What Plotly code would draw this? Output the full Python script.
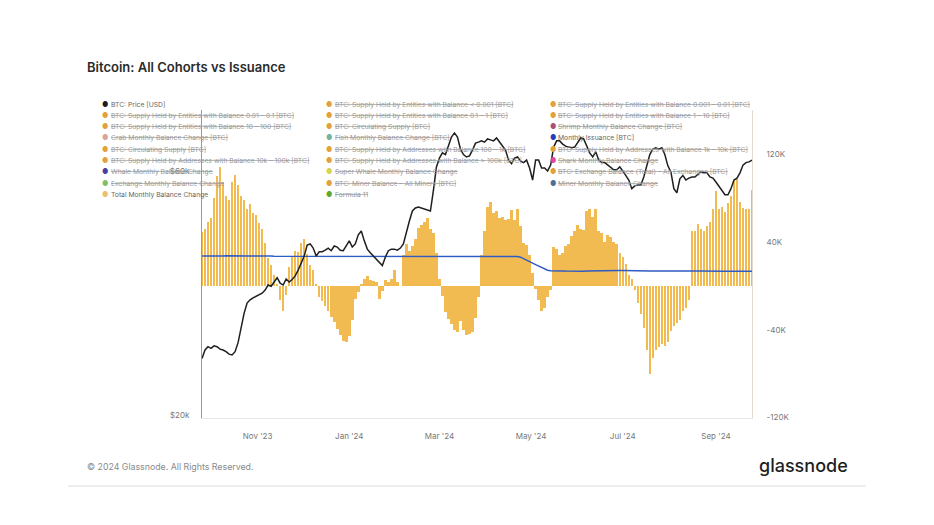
import numpy as np
import pandas as pd
import plotly.graph_objects as go

# ---------------- data ----------------
start_date = "2023-09-25"
n_points = 184  # one value every 2 days
dates = pd.date_range(start_date, periods=n_points, freq="2D")

# Total Monthly Balance Change [thousand BTC]
total_change_k = [
    49, 52, 58, 62, 80, 100, 108, 94, 82, 78,
    94, 101, 92, 82, 78, 70, 74, 66, 64, 57,
    52, 39, 25, 19, 10, 1, -13, -23, -8, 17,
    27, 32, 31, 39, 43, 29, 19, 14, 2, -10,
    -14, -18, -23, -28, -33, -39, -45, -50, -51, -46,
    -31, -12, -6, 1, 6, 9, 5, 4, 3, -12,
    -5, 5, 3, 6, 14, 3, 0, 28, 38, 32,
    36, 43, 53, 55, 58, 62, 52, 48, 30, 6,
    -9, -24, -30, -35, -40, -42, -32, -40, -45, -44,
    -42, -29, -10, 28, 50, 72, 76, 66, 68, 62,
    63, 60, 61, 69, 60, 70, 54, 39, 37, 28,
    12, -3, -13, -23, -20, -10, -4, 35, 33, 28,
    30, 36, 38, 45, 50, 55, 52, 51, 68, 70,
    63, 70, 50, 48, 40, 46, 44, 40, 38, 30,
    26, 20, 10, 6, -4, -16, -26, -38, -58, -80,
    -66, -58, -56, -53, -55, -51, -41, -37, -34, -31,
    -23, -20, -13, 50, 50, 56, 52, 50, 54, 58,
    70, 86, 70, 72, 67, 75, 82, 95, 97, 76,
    71, 70, 70, 87,
]

# Monthly Issuance [thousand BTC]
issuance_k = [
    27.1, 27.0, 27.2, 27.3, 27.1, 27.0, 26.9, 27.0, 27.2, 27.1,
    27.0, 27.2, 27.4, 27.3, 27.2, 27.1, 27.0, 27.0, 27.1, 27.2,
    27.3, 27.2, 27.1, 27.0, 26.9, 26.9, 27.0, 27.1, 27.2, 27.2,
    27.1, 27.0, 27.0, 26.9, 26.8, 26.8, 26.9, 27.0, 27.0, 26.9,
    26.8, 26.7, 26.7, 26.8, 26.9, 27.0, 27.1, 27.0, 26.9, 26.9,
    27.0, 27.1, 27.1, 27.0, 26.9, 26.8, 26.8, 26.9, 27.0, 27.0,
    27.1, 27.1, 27.0, 26.9, 26.9, 27.0, 27.1, 27.2, 27.2, 27.1,
    27.0, 27.0, 27.1, 27.2, 27.1, 27.0, 26.9, 26.9, 27.0, 27.1,
    27.1, 27.0, 26.9, 26.9, 27.0, 27.0, 27.1, 27.1, 27.0, 26.9,
    26.9, 27.0, 27.0, 27.1, 27.0, 26.9, 26.9, 27.0, 27.0, 26.9,
    26.9, 27.0, 27.0, 26.9, 26.8, 26.6, 26.0, 24.8, 23.4, 22.0,
    20.6, 19.2, 17.8, 16.4, 15.2, 14.2, 13.6, 13.4, 13.3, 13.4,
    13.5, 13.4, 13.3, 13.4, 13.5, 13.5, 13.4, 13.3, 13.4, 13.5,
    13.6, 13.6, 13.5, 13.4, 13.4, 13.5, 13.6, 13.6, 13.7, 13.8,
    13.8, 13.7, 13.6, 13.6, 13.7, 13.8, 13.8, 13.7, 13.6, 13.5,
    13.5, 13.6, 13.6, 13.5, 13.4, 13.4, 13.5, 13.5, 13.4, 13.3,
    13.3, 13.4, 13.4, 13.3, 13.3, 13.4, 13.4, 13.3, 13.2, 13.3,
    13.3, 13.4, 13.3, 13.2, 13.2, 13.3, 13.3, 13.4, 13.3, 13.3,
    13.2, 13.3, 13.3, 13.2,
]

# BTC: Price [thousand USD]
price_k = [
    25.8, 26.8, 27.2, 27.0, 27.3, 27.2, 26.9, 26.8, 26.6, 26.3,
    26.2, 26.6, 27.7, 29.6, 31.6, 33.1, 33.6, 33.9, 34.1, 34.3,
    34.6, 35.1, 35.9, 35.7, 36.5, 37.1, 36.2, 35.9, 36.9, 36.4,
    36.8, 37.4, 38.4, 39.5, 40.9, 43.0, 43.2, 42.4, 40.9, 41.7,
    41.7, 42.0, 42.4, 41.9, 42.8, 42.6, 42.0, 41.9, 42.8, 43.8,
    42.6, 43.2, 45.0, 45.8, 43.8, 42.2, 41.5, 40.9, 40.3, 39.7,
    39.2, 40.7, 41.9, 42.2, 42.2, 42.0, 42.4, 43.2, 45.8, 47.9,
    50.1, 50.8, 51.0, 50.8, 50.6, 50.3, 50.1, 55.0, 61.1, 63.6,
    65.1, 64.6, 67.4, 69.9, 71.2, 69.9, 66.2, 64.6, 63.9, 64.2,
    65.9, 68.0, 68.3, 68.7, 68.3, 69.3, 69.0, 68.7, 69.6, 68.3,
    66.8, 65.9, 63.0, 62.0, 63.6, 63.9, 62.7, 62.3, 63.0, 60.8,
    57.6, 63.0, 63.0, 60.8, 60.8, 60.0, 61.6, 66.8, 68.7, 68.7,
    67.7, 67.1, 66.8, 66.6, 66.8, 68.3, 69.6, 69.3, 67.1, 65.1,
    63.9, 65.4, 63.0, 62.3, 62.3, 61.6, 60.8, 60.3, 60.3, 61.1,
    60.0, 58.6, 57.6, 55.4, 56.1, 56.3, 56.3, 58.4, 61.1, 64.6,
    66.2, 66.6, 66.2, 66.6, 64.6, 61.4, 59.8, 55.4, 54.4, 57.9,
    58.8, 57.6, 58.1, 58.4, 58.4, 59.1, 59.8, 59.5, 59.5, 58.4,
    58.1, 57.1, 56.1, 55.1, 53.9, 53.9, 55.4, 57.6, 58.1, 59.5,
    61.6, 62.3, 62.5, 63.0,
]

x_tick_labels_start = "2023-11-01"
right_tickvals = [120, 40, -40, -120]
right_ticktext = ["120K", "40K", "-40K", "-120K"]
left_tickvals = [20, 60]
left_ticktext = ["$20k", "$60k"]

# legend entries: (label, dot colour, active)
legend_cols = [
    [
        ("BTC: Price [USD]", "#1d1d1d", True),
        ("BTC: Supply Held by Entities with Balance 0.01 – 0.1 [BTC]", "#E3A13E", False),
        ("BTC: Supply Held by Entities with Balance 10 – 100 [BTC]", "#E3A13E", False),
        ("Crab Monthly Balance Change [BTC]", "#D9A39C", False),
        ("BTC: Circulating Supply [BTC]", "#E3A13E", False),
        ("BTC: Supply Held by Addresses with Balance 10k – 100k [BTC]", "#E3A13E", False),
        ("Whale Monthly Balance Change", "#4A3E9E", False),
        ("Exchange Monthly Balance Change", "#7DC26A", False),
        ("Total Monthly Balance Change", "#E9C06E", True),
    ],
    [
        ("BTC: Supply Held by Entities with Balance &lt; 0.001 [BTC]", "#E3A13E", False),
        ("BTC: Supply Held by Entities with Balance 0.1 – 1 [BTC]", "#E3A13E", False),
        ("BTC: Circulating Supply [BTC]", "#E3A13E", False),
        ("Fish Monthly Balance Change [BTC]", "#6FB5A4", False),
        ("BTC: Supply Held by Addresses with Balance 100 – 1k [BTC]", "#E3A13E", False),
        ("BTC: Supply Held by Addresses with Balance &gt; 100k [BTC]", "#E3A13E", False),
        ("Super Whale Monthly Balance Change", "#D6D34E", False),
        ("BTC: Miner Balance – All Miners [BTC]", "#E3A13E", False),
        ("Formula 11", "#5FA832", False),
    ],
    [
        ("BTC: Supply Held by Entities with Balance 0.001 – 0.01 [BTC]", "#E3A13E", False),
        ("BTC: Supply Held by Entities with Balance 1 – 10 [BTC]", "#E3A13E", False),
        ("Shrimp Monthly Balance Change [BTC]", "#A8517A", False),
        ("Monthly Issuance [BTC]", "#1F3FBF", True),
        ("BTC: Supply Held by Addresses with Balance 1k – 10k [BTC]", "#E3A13E", False),
        ("Shark Monthly Balance Change", "#E0479E", False),
        ("BTC: Exchange Balance (Total) – All Exchanges [BTC]", "#E3A13E", False),
        ("Miner Monthly Balance Change", "#4C6E9C", False),
    ],
]

# ---------------- figure ----------------
OFF = 8  # page body margin of the browser
W, H = 934 - OFF, 525 - OFF
L, R, T, B = 202 - OFF, 752 - OFF, 110 - OFF, 418 - OFF
pw, ph = R - L, B - T


def px(x):
    # x given in window pixels
    return (x - OFF - L) / pw


def py(y):
    return (B - (y - OFF)) / ph


FONT = "Inter, Roboto, sans-serif"

fig = go.Figure()

fig.add_trace(go.Scatter(
    x=dates, y=issuance_k, mode="lines", name="Monthly Issuance [BTC]",
    line=dict(color="#2F5BC4", width=1.5), yaxis="y", showlegend=False,
))
fig.add_trace(go.Bar(
    x=dates, y=total_change_k, name="Total Monthly Balance Change",
    marker=dict(color="#F2BB52", line=dict(width=0)),
    width=2 * 86400000 * 0.84, yaxis="y", showlegend=False,
))
fig.add_trace(go.Scatter(
    x=dates, y=price_k, mode="lines", name="BTC: Price [USD]",
    line=dict(color="#1f1f1f", width=1.5), yaxis="y2", showlegend=False,
))

fig.update_layout(
    width=W, height=H,
    margin=dict(l=L, r=W - R, t=T, b=H - B, pad=0),
    paper_bgcolor="white", plot_bgcolor="white",
    bargap=0,
    font=dict(family=FONT, color="#777"),
    xaxis=dict(
        type="date", range=["2023-09-25", "2024-09-25"],
        tick0=x_tick_labels_start, dtick="M2", tickformat="%b '%y",
        ticks="", showgrid=False, zeroline=False,
        showline=True, linecolor="#e6e6e6", linewidth=1,
        tickfont=dict(size=8, color="#777", family=FONT),
        ticklabelstandoff=10,
    ),
    yaxis=dict(
        side="right", range=[-120.3, 159.9],
        tickvals=right_tickvals, ticktext=right_ticktext,
        showgrid=False, zeroline=False, ticks="",
        showline=True, linecolor="#e3dccd", linewidth=1,
        tickfont=dict(size=8, color="#777", family=FONT),
        ticklabelstandoff=12,
    ),
    yaxis2=dict(
        overlaying="y", side="left", type="log",
        range=[1.29517, 1.89731],
        tickvals=left_tickvals, ticktext=left_ticktext,
        showgrid=False, zeroline=False, ticks="",
        showline=True, linecolor="#9a9a9a", linewidth=1,
        tickfont=dict(size=8, color="#777", family=FONT),
        ticklabelstandoff=10,
    ),
)

ann = []
ann.append(dict(
    text="Bitcoin: All Cohorts vs Issuance", x=px(85), y=py(67),
    xref="paper", yref="paper", xanchor="left", yanchor="middle",
    showarrow=False, font=dict(size=13, color="#2b2b2b", family=FONT, weight=600),
))
ann.append(dict(
    text="© 2024 Glassnode. All Rights Reserved.", x=px(85), y=py(466),
    xref="paper", yref="paper", xanchor="left", yanchor="middle",
    showarrow=False, font=dict(size=8.8, color="#8a8a8a", family=FONT),
))
ann.append(dict(
    text="glassnode", x=px(850), y=py(465),
    xref="paper", yref="paper", xanchor="right", yanchor="middle",
    showarrow=False, font=dict(size=18, color="#1e1e1e", family=FONT, weight=500),
))

col_dot_x = [105, 329, 553]
col_text_x = [109, 333, 556]
row_y0, row_dy = 104, 11.3
for ci, col in enumerate(legend_cols):
    for ri, (label, color, active) in enumerate(col):
        yy = row_y0 + ri * row_dy
        ann.append(dict(
            text="●", x=px(col_dot_x[ci]), y=py(yy),
            xref="paper", yref="paper", xanchor="center", yanchor="middle",
            showarrow=False, font=dict(size=7, color=color, family=FONT),
        ))
        txt = label if active else f"<s>{label}</s>"
        ann.append(dict(
            text=txt, x=px(col_text_x[ci]), y=py(yy),
            xref="paper", yref="paper", xanchor="left", yanchor="middle",
            showarrow=False,
            font=dict(size=6.75, color="#666666" if active else "#999999", family=FONT),
        ))

fig.update_layout(annotations=ann)

fig.add_shape(
    type="line", xref="paper", yref="paper",
    x0=px(68), x1=px(866), y0=py(486), y1=py(486),
    line=dict(color="#dddddd", width=1),
)

fig.write_html("out.html")
